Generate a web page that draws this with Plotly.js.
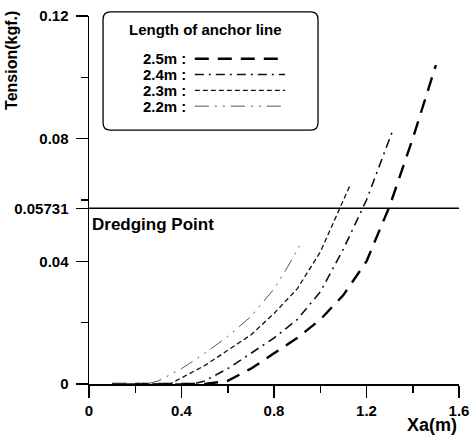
<!DOCTYPE html>
<html>
<head>
<meta charset="utf-8">
<script src="https://cdn.plot.ly/plotly-3.0.1.min.js"></script>
<style>html,body{margin:0;padding:0;background:#fff;}#chart{width:472px;height:441px;}</style>
</head>
<body>
<div id="chart"></div>
<script>
// Data
var x25 = [0.10, 0.50, 0.60, 0.70, 0.80, 0.90, 1.00, 1.10, 1.20, 1.30, 1.40, 1.50];
var y25 = [0.000, 0.000, 0.001, 0.005, 0.010, 0.015, 0.021, 0.029, 0.040, 0.058, 0.080, 0.104];
var x24 = [0.10, 0.45, 0.50, 0.60, 0.70, 0.80, 0.90, 1.00, 1.10, 1.20, 1.31];
var y24 = [0.000, 0.000, 0.001, 0.005, 0.010, 0.015, 0.021, 0.030, 0.044, 0.060, 0.082];
var x23 = [0.10, 0.35, 0.40, 0.50, 0.60, 0.70, 0.80, 0.90, 1.00, 1.13];
var y23 = [0.000, 0.000, 0.002, 0.006, 0.011, 0.016, 0.023, 0.031, 0.043, 0.065];
var x22 = [0.10, 0.25, 0.30, 0.40, 0.50, 0.60, 0.70, 0.80, 0.85, 0.91];
var y22 = [0.000, 0.000, 0.001, 0.005, 0.010, 0.0155, 0.022, 0.031, 0.037, 0.045];
var dredgeX = [0, 1.6];
var dredgeY = [0.05731, 0.05731];
var seriesNames = ["2.5m :", "2.4m :", "2.3m :", "2.2m :"];
var yTickVals = [0, 0.04, 0.05731, 0.08, 0.12];
var yTickText = ["0", "0.04", "0.05731", "0.08", "0.12"];
var xTickVals = [0, 0.4, 0.8, 1.2, 1.6];
var xTickText = ["0", "0.4", "0.8", "1.2", "1.6"];

var F = "Liberation Sans, Arial, sans-serif";
var dashes = ["14px,9px", "9px,5px,2px,5px", "5px,3px", "14px,6px,2px,6px,2px,6px"];
var widths = [2.4, 1.6, 1.3, 1.0];
var colors = ["#000", "#111", "#111", "#555"];
var xs = [x25, x24, x23, x22], ys = [y25, y24, y23, y22];

var traces = [];
for (var i = 0; i < 4; i++) {
  traces.push({x: xs[i], y: ys[i], type: "scatter", mode: "lines", name: seriesNames[i],
    line: {color: colors[i], width: widths[i], dash: dashes[i]}, showlegend: false});
}
traces.push({x: dredgeX, y: dredgeY, type: "scatter", mode: "lines",
  line: {color: "#000", width: 1.3}, showlegend: false});

// custom legend (text, then sample line)
var lx0 = 0.038, lx1 = 0.619, ly0 = 0.690, ly1 = 1.011, rx = 0.02, ry = 0.02;
var shapes = [{
  type: "path", xref: "paper", yref: "paper",
  path: "M " + (lx0 + rx) + " " + ly1 + " L " + (lx1 - rx) + " " + ly1 +
        " Q " + lx1 + " " + ly1 + " " + lx1 + " " + (ly1 - ry) +
        " L " + lx1 + " " + (ly0 + ry) + " Q " + lx1 + " " + ly0 + " " + (lx1 - rx) + " " + ly0 +
        " L " + (lx0 + rx) + " " + ly0 + " Q " + lx0 + " " + ly0 + " " + lx0 + " " + (ly0 + ry) +
        " L " + lx0 + " " + (ly1 - ry) + " Q " + lx0 + " " + ly1 + " " + (lx0 + rx) + " " + ly1 + " Z",
  line: {color: "#000", width: 1.3}, fillcolor: "rgba(0,0,0,0)"
}];
var legY = [0.884, 0.841, 0.798, 0.755];
var annotations = [
  {xref: "paper", yref: "paper", x: 0.316, y: 0.962, text: "<b>Length of anchor line</b>", showarrow: false,
   font: {family: F, size: 15, color: "#000"}, xanchor: "center", yanchor: "middle"},
  {xref: "paper", yref: "paper", x: -0.208, y: 0.878, text: "<b>Tension(kgf.)</b>", showarrow: false, textangle: -90,
   font: {family: F, size: 16, color: "#000"}, xanchor: "center", yanchor: "middle"},
  {xref: "paper", yref: "paper", x: 0.927, y: -0.111, text: "<b>Xa(m)</b>", showarrow: false,
   font: {family: F, size: 18, color: "#000"}, xanchor: "center", yanchor: "middle"},
  {xref: "paper", yref: "paper", x: 0.003, y: 0.433, text: "<b>Dredging Point</b>", showarrow: false,
   font: {family: F, size: 17, color: "#000"}, xanchor: "left", yanchor: "middle"}
];
for (var j = 0; j < 4; j++) {
  annotations.push({xref: "paper", yref: "paper", x: 0.268, y: legY[j], text: "<b>" + seriesNames[j] + "</b>",
    showarrow: false, font: {family: F, size: 15, color: "#000"}, xanchor: "right", yanchor: "middle"});
  shapes.push({type: "line", xref: "paper", yref: "paper", x0: 0.286, x1: 0.530, y0: legY[j], y1: legY[j],
    line: {color: colors[j], width: widths[j], dash: dashes[j]}});
}

var layout = {
  width: 472, height: 441,
  margin: {l: 89, r: 13, t: 16, b: 57},
  paper_bgcolor: "#fff", plot_bgcolor: "#fff",
  font: {family: F, color: "#000"},
  xaxis: {range: [0, 1.6], tickmode: "array", tickvals: xTickVals, ticktext: xTickText,
    showgrid: false, zeroline: false, showline: true, linecolor: "#000", linewidth: 1.5,
    ticks: "outside", ticklen: 12, tickwidth: 1.5, tickcolor: "#000",
    tickfont: {family: F, size: 15, color: "#000", weight: "bold"},
    minor: {tickvals: [0.2, 0.6, 1.0, 1.4], ticks: "outside", ticklen: 7, tickwidth: 1.5, tickcolor: "#000"}},
  yaxis: {range: [0, 0.12], tickmode: "array", tickvals: yTickVals, ticktext: yTickText,
    showgrid: false, zeroline: false, showline: true, linecolor: "#000", linewidth: 1.5,
    ticks: "outside", ticklen: 12, tickwidth: 1.5, tickcolor: "#000", ticklabelstandoff: 4,
    tickfont: {family: F, size: 15, color: "#000", weight: "bold"},
    minor: {tickvals: [0.02, 0.06, 0.10], ticks: "outside", ticklen: 7, tickwidth: 1.5, tickcolor: "#000"}},
  shapes: shapes,
  annotations: annotations,
  showlegend: false
};
Plotly.newPlot("chart", traces, layout, {displayModeBar: false, staticPlot: true});
</script>
</body>
</html>
